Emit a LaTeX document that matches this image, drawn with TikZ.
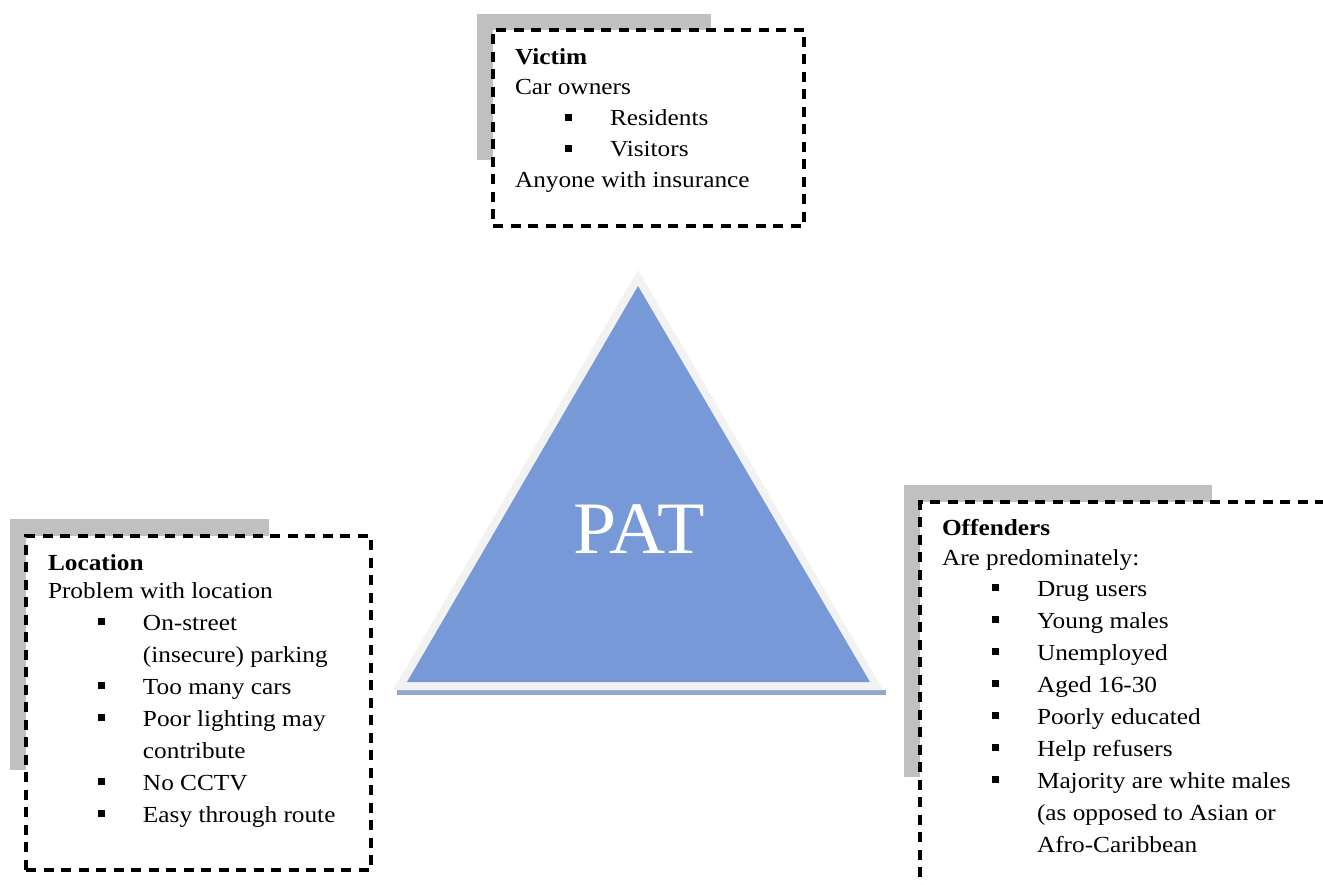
\documentclass[tikz,border=0pt]{standalone}
\usepackage{fontspec}
\setmainfont[FakeStretch=1.1]{Liberation Serif}
\newfontfamily\patfont[FakeStretch=1.05]{Liberation Serif}
\definecolor{shadowgray}{HTML}{C0C0C0}
\definecolor{outergray}{HTML}{F2F2F2}
\definecolor{triblue}{HTML}{7799D7}
\definecolor{stripblue}{HTML}{8FA6CE}
\newcommand\sqbullet{\raisebox{5pt}{\rule{7pt}{7pt}}}
\newcommand\bitem[1]{\hspace*{50pt}\makebox[45pt][l]{\sqbullet}#1}
\newcommand\bcont[1]{\hspace*{95pt}#1}
\tikzset{
  shadowbox/.style={fill=shadowgray, draw=none},
  dashbox/.style={draw=black, fill=white, line width=3.4pt, dash pattern=on 10pt off 7.5pt, anchor=north west, inner sep=0pt, outer sep=0pt},
  boxtext/.style={anchor=base west, inner sep=0pt, outer sep=0pt},
}
\begin{document}
\begin{tikzpicture}[x=1pt,y=-1pt]
\useasboundingbox (0,0) rectangle (1323,885);
\clip (0,0) rectangle (1323,885);
% victim
\fill[shadowbox] (477,14) rectangle (711,160);
\node[dashbox, minimum width=311pt, minimum height=196pt] (victimbox) at (493,30) {};
\node[boxtext] (victimtext) at (515,65) {\begin{minipage}[t]{280pt}\fontsize{23}{31}\selectfont
\textbf{Victim}\\[-1pt]
Car owners\\
\bitem{Residents}\\
\bitem{Visitors}\\
Anyone with insurance
\end{minipage}};
% location
\fill[shadowbox] (10,519) rectangle (269,770);
\node[dashbox, minimum width=345pt, minimum height=334pt] (locbox) at (26,536) {};
\node[boxtext] (loctext) at (48,570) {\begin{minipage}[t]{330pt}\fontsize{23}{32}\selectfont
\textbf{Location}\\[-4pt]
Problem with location\\
\bitem{On-street}\\
\bcont{(insecure) parking}\\
\bitem{Too many cars}\\
\bitem{Poor lighting may}\\
\bcont{contribute}\\
\bitem{No CCTV}\\
\bitem{Easy through route}
\end{minipage}};
% offenders
\fill[shadowbox] (904,485) rectangle (1212,777);
\node[dashbox, minimum width=430pt, minimum height=420pt] (offbox) at (920,502) {};
\node[boxtext] (offtext) at (942,535) {\begin{minipage}[t]{380pt}\fontsize{23}{32}\selectfont
\textbf{Offenders}\\[-2pt]
Are predominately:\\[-1pt]
\bitem{Drug users}\\
\bitem{Young males}\\
\bitem{Unemployed}\\
\bitem{Aged 16-30}\\
\bitem{Poorly educated}\\
\bitem{Help refusers}\\
\bitem{Majority are white males}\\
\bcont{(as opposed to Asian or}\\
\bcont{Afro-Caribbean}
\end{minipage}};
% triangle
\fill[stripblue] (397,690) rectangle (886,694.5);
\fill[outergray] (638,270) -- (393,690) -- (883,690) -- cycle;
\fill[triblue] (638,286) -- (407,682) -- (870,682) -- cycle;
\node[anchor=base, text=white, inner sep=0pt, font=\patfont\fontsize{74}{74}\selectfont] (pat) at (639,553) {PAT};
\end{tikzpicture}
\end{document}
